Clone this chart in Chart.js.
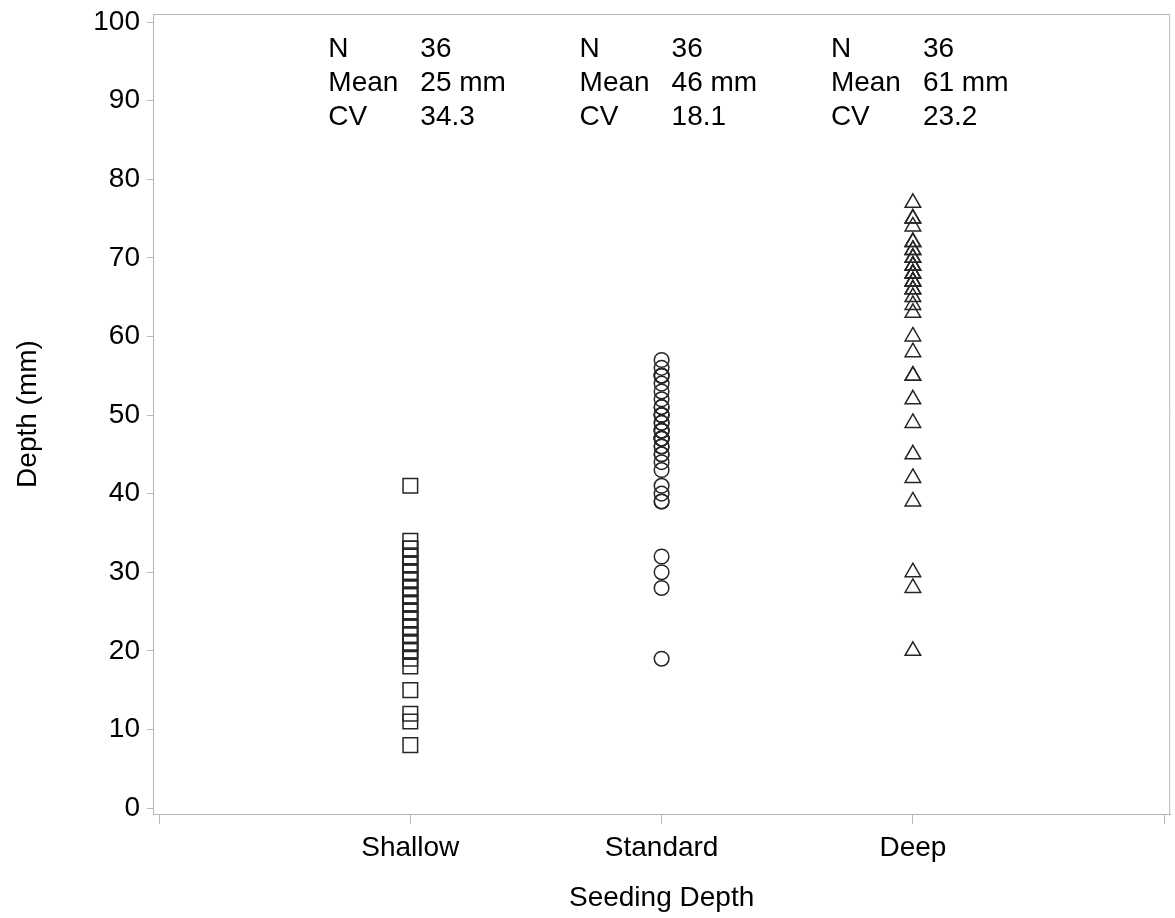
<!DOCTYPE html>
<html>
<head>
<meta charset="utf-8">
<script src="https://cdn.jsdelivr.net/npm/chart.js@4"></script>
<style>
  html, body { margin: 0; padding: 0; background: #fff; overflow: hidden; }
  #wrap { width: 1175px; height: 918px; overflow: hidden; }
</style>
</head>
<body>
<div id="wrap"><canvas id="depthChart" width="1182" height="918"></canvas></div>
<script>
// Seeding depth groups and measured depths (mm)
const categories = ["Shallow", "Standard", "Deep"];
const shallowDepth = [41, 34, 33, 33, 32, 32, 31, 31, 30, 30, 29, 29, 28, 28, 27, 27, 26, 26,
  25, 25, 24, 24, 23, 23, 22, 22, 21, 21, 20, 20, 19, 18, 15, 12, 11, 8];
const standardDepth = [57, 56, 55, 55, 55, 54, 53, 52, 51, 51, 50, 50, 50, 49, 49, 48, 48, 48,
  47, 47, 47, 47, 46, 46, 45, 45, 44, 43, 41, 40, 39, 39, 32, 30, 28, 19];
const deepDepth = [77, 75, 75, 74, 72, 72, 71, 71, 70, 70, 69, 69, 69, 68, 68, 68, 67, 67,
  67, 66, 66, 65, 64, 63, 60, 58, 55, 55, 52, 49, 45, 42, 39, 30, 28, 20];
const yTicks = [0, 10, 20, 30, 40, 50, 60, 70, 80, 90, 100];

// Summary stats printed above each column
const nValues = ["36", "36", "36"];
const meanValues = ["25 mm", "46 mm", "61 mm"];
const cvValues = ["34.3", "18.1", "23.2"];

const FONT = "'Liberation Sans', Arial, sans-serif";
const FSIZE = 28;
const AXIS_GRAY = "#b3b8bc";
const MARK = "#262626";

function toPoints(vals, idx) {
  return vals.map(v => ({ x: idx, y: v }));
}

// frame on top/right + stats text
const framePlugin = {
  id: "frame",
  afterDraw(chart) {
    const ctx = chart.ctx;
    const a = chart.chartArea;
    ctx.save();
    ctx.strokeStyle = AXIS_GRAY;
    ctx.lineWidth = 1;
    ctx.beginPath();
    ctx.moveTo(a.left, a.top + 0.5);
    ctx.lineTo(a.right - 0.5, a.top + 0.5);
    ctx.lineTo(a.right - 0.5, a.bottom);
    ctx.stroke();

    ctx.fillStyle = "#000";
    ctx.font = FSIZE + "px " + FONT;
    ctx.textBaseline = "middle";
    ctx.textAlign = "left";
    const xs = chart.scales.x;
    const rows = [["N", nValues], ["Mean", meanValues], ["CV", cvValues]];
    categories.forEach((c, i) => {
      const cx = xs.getPixelForValue(i + 1);
      rows.forEach((r, j) => {
        const y = a.top + 35 + j * 34;
        ctx.fillText(r[0], cx - 82, y);
        ctx.fillText(r[1][i], cx + 10, y);
      });
    });
    ctx.restore();
  }
};

const ctx = document.getElementById("depthChart").getContext("2d");
const depthChart = new Chart(ctx, {
  type: "scatter",
  data: {
    datasets: [
      {
        label: categories[0],
        data: toPoints(shallowDepth, 1),
        pointStyle: "rect",
        pointRadius: 10.3,
        borderColor: MARK,
        backgroundColor: "rgba(0,0,0,0)",
        borderWidth: 1.5,
      },
      {
        label: categories[1],
        data: toPoints(standardDepth, 2),
        pointStyle: "circle",
        pointRadius: 7.3,
        borderColor: MARK,
        backgroundColor: "rgba(0,0,0,0)",
        borderWidth: 1.5,
      },
      {
        label: categories[2],
        data: toPoints(deepDepth, 3),
        pointStyle: "triangle",
        pointRadius: 9,
        borderColor: MARK,
        backgroundColor: "rgba(0,0,0,0)",
        borderWidth: 1.5,
      },
    ],
  },
  options: {
    responsive: false,
    animation: false,
    events: [],
    layout: { padding: { top: 14, right: 0, left: 0, bottom: 0 } },
    plugins: {
      legend: { display: false },
      tooltip: { enabled: false },
    },
    scales: {
      x: {
        type: "linear",
        min: -0.024,
        max: 4.024,
        afterFit: s => { s.height = 104; s.paddingLeft = 0; s.paddingRight = 0; },
        afterBuildTicks: s => { s.ticks = [0, 1, 2, 3, 4].map(v => ({ value: v })); },
        ticks: {
          callback: v => (v >= 1 && v <= 3 ? categories[v - 1] : ""),
          color: "#000",
          font: { family: FONT, size: FSIZE, lineHeight: 1.2 },
          padding: 7,
          maxRotation: 0,
          autoSkip: false,
        },
        grid: {
          drawOnChartArea: false,
          color: AXIS_GRAY,
          tickLength: 10,
        },
        border: { color: AXIS_GRAY, width: 1 },
        title: {
          display: true,
          text: "Seeding Depth",
          color: "#000",
          font: { family: FONT, size: FSIZE, lineHeight: 1.2 },
          padding: { top: 0, bottom: 3 },
        },
      },
      y: {
        type: "linear",
        min: -0.76,
        max: 101.02,
        afterFit: s => { s.width = 153; s.paddingTop = 0; s.paddingBottom = 0; },
        afterBuildTicks: s => { s.ticks = yTicks.map(v => ({ value: v })); },
        ticks: {
          color: "#000",
          font: { family: FONT, size: FSIZE, lineHeight: 1.2 },
          padding: 7,
        },
        grid: {
          drawOnChartArea: false,
          color: AXIS_GRAY,
          tickLength: 6,
        },
        border: { color: AXIS_GRAY, width: 1 },
        title: {
          display: true,
          text: "Depth (mm)",
          color: "#000",
          font: { family: FONT, size: FSIZE, lineHeight: 1.2 },
          padding: { top: 11, bottom: 0 },
        },
      },
    },
  },
  plugins: [framePlugin],
});
</script>
</body>
</html>
